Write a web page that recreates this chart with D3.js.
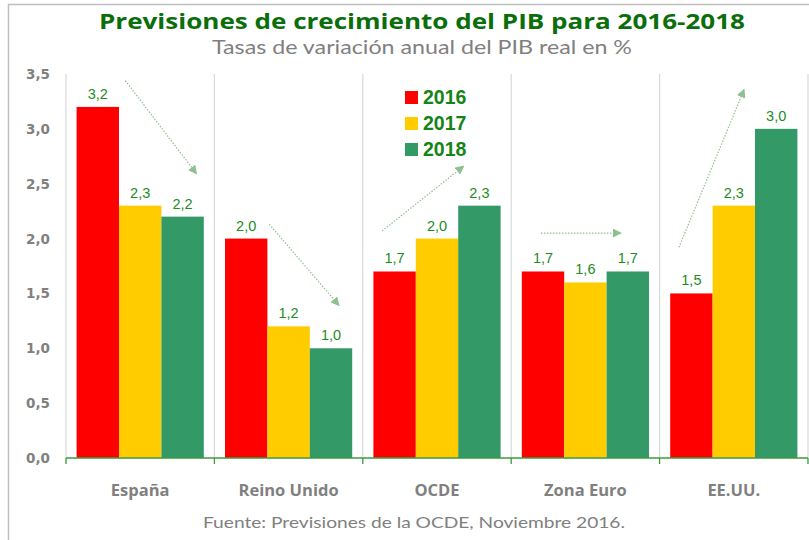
<!DOCTYPE html>
<html>
<head>
<meta charset="utf-8">
<script src="https://cdn.jsdelivr.net/npm/d3@7"></script>
<style>
  body { margin: 0; background: #fff; }
  svg { display: block; }
</style>
</head>
<body>
<svg width="809" height="540"></svg>
<script>
// Data
var categories = ["España", "Reino Unido", "OCDE", "Zona Euro", "EE.UU."];
var years = ["2016", "2017", "2018"];
var values2016 = [3.2, 2.0, 1.7, 1.7, 1.5];
var values2017 = [2.3, 1.2, 2.0, 1.6, 2.3];
var values2018 = [2.2, 1.0, 2.3, 1.7, 3.0];
var yTicks = [0, 0.5, 1, 1.5, 2, 2.5, 3, 3.5];

// Trend arrows: category, start/end position inside the band (fraction) and value
var arrows = [
  { cat: "España", f0: 0.40, v0: 3.44, f1: 0.88, v1: 2.59 },
  { cat: "Reino Unido", f0: 0.37, v0: 2.13, f1: 0.84, v1: 1.39 },
  { cat: "OCDE", f0: 0.13, v0: 2.07, f1: 0.68, v1: 2.66 },
  { cat: "Zona Euro", f0: 0.20, v0: 2.05, f1: 0.74, v1: 2.05 },
  { cat: "EE.UU.", f0: 0.13, v0: 1.92, f1: 0.57, v1: 3.36 }
];

var colors = { "2016": "#ff0000", "2017": "#ffcc00", "2018": "#339966" };
var labelGreen = "#1e8c1e";

var svg = d3.select("svg");

// outer frame (top and left grey lines)
svg.append("path")
  .attr("d", "M8.5,540 V4.5 H809")
  .attr("fill", "none")
  .attr("stroke", "#bfbfbf")
  .attr("stroke-width", 1.5);

// build rows
var rows = categories.map(function (c, i) {
  return { cat: c, vals: [values2016[i], values2017[i], values2018[i]] };
});

var x0 = d3.scaleBand().domain(categories).range([66, 808]);
var x1 = d3.scaleBand().domain(years).range([0, x0.bandwidth()]).paddingOuter(0.25);
var y = d3.scaleLinear().domain([0, 3.5]).range([458, 74]);

var fmt = function (v) { return d3.format(".1f")(v).replace(".", ","); };

// vertical gridlines at band boundaries
var bounds = categories.map(function (c) { return x0(c); }).concat([x0.range()[1]]);
svg.append("g").selectAll("line")
  .data(bounds)
  .enter().append("line")
  .attr("x1", function (d) { return d; })
  .attr("x2", function (d) { return d; })
  .attr("y1", y(3.5))
  .attr("y2", y(0))
  .attr("stroke", "#d9d9d9")
  .attr("stroke-width", 1.2);

// bars
var groups = svg.append("g").selectAll("g")
  .data(rows)
  .enter().append("g")
  .attr("transform", function (d) { return "translate(" + x0(d.cat) + ",0)"; });

groups.selectAll("rect")
  .data(function (d) { return d.vals.map(function (v, i) { return { year: years[i], v: v }; }); })
  .enter().append("rect")
  .attr("x", function (d) { return x1(d.year); })
  .attr("width", x1.bandwidth())
  .attr("y", function (d) { return y(d.v); })
  .attr("height", function (d) { return y(0) - y(d.v); })
  .attr("fill", function (d) { return colors[d.year]; });

// value labels
groups.selectAll("text")
  .data(function (d) { return d.vals.map(function (v, i) { return { year: years[i], v: v }; }); })
  .enter().append("text")
  .attr("x", function (d) { return x1(d.year) + x1.bandwidth() / 2; })
  .attr("y", function (d) { return y(d.v) - 8; })
  .attr("text-anchor", "middle")
  .attr("font-family", "Liberation Sans, Arial, sans-serif")
  .attr("font-size", 14.5)
  .attr("fill", labelGreen)
  .text(function (d) { return fmt(d.v); });

// x axis (green line with ticks at band boundaries)
var xAxis = svg.append("g");
xAxis.append("line")
  .attr("x1", x0.range()[0]).attr("x2", x0.range()[1])
  .attr("y1", y(0)).attr("y2", y(0))
  .attr("stroke", "#3d9b3d").attr("stroke-width", 1.3);
xAxis.selectAll(".tick")
  .data(bounds)
  .enter().append("line")
  .attr("x1", function (d) { return d; })
  .attr("x2", function (d) { return d; })
  .attr("y1", y(0))
  .attr("y2", y(0) + 6)
  .attr("stroke", "#3d9b3d").attr("stroke-width", 1.3);

// category labels
svg.append("g").selectAll("text")
  .data(categories)
  .enter().append("text")
  .attr("x", function (d) { return x0(d) + x0.bandwidth() / 2; })
  .attr("y", 496)
  .attr("text-anchor", "middle")
  .attr("font-family", "Open Sans, sans-serif")
  .attr("font-weight", "bold")
  .attr("font-size", 16.5)
  .attr("fill", "#808080")
  .text(function (d) { return d; });

// y axis labels
svg.append("g").selectAll("text")
  .data(yTicks)
  .enter().append("text")
  .attr("x", 50)
  .attr("y", function (d) { return y(d) + 5; })
  .attr("text-anchor", "end")
  .attr("font-family", "DejaVu Sans, sans-serif")
  .attr("font-weight", "bold")
  .attr("font-size", 13.5)
  .attr("fill", "#808080")
  .text(fmt);

// trend arrows
svg.append("defs").append("marker")
  .attr("id", "head")
  .attr("viewBox", "0 0 10 10")
  .attr("refX", 9).attr("refY", 5)
  .attr("markerWidth", 9).attr("markerHeight", 9)
  .attr("markerUnits", "userSpaceOnUse")
  .attr("orient", "auto")
  .append("path")
  .attr("d", "M0,0 L10,5 L0,10 Z")
  .attr("fill", "#8fc08f");

svg.append("g").selectAll("line")
  .data(arrows)
  .enter().append("line")
  .attr("x1", function (d) { return x0(d.cat) + d.f0 * x0.bandwidth(); })
  .attr("y1", function (d) { return y(d.v0); })
  .attr("x2", function (d) { return x0(d.cat) + d.f1 * x0.bandwidth(); })
  .attr("y2", function (d) { return y(d.v1); })
  .attr("stroke", "#8fc08f")
  .attr("stroke-width", 1.2)
  .attr("stroke-dasharray", "1.5,1.5")
  .attr("marker-end", "url(#head)");

// legend
var legend = svg.append("g").selectAll("g")
  .data(years)
  .enter().append("g")
  .attr("transform", function (d, i) { return "translate(405," + (91 + i * 26) + ")"; });
legend.append("rect")
  .attr("width", 13).attr("height", 13)
  .attr("fill", function (d) { return colors[d]; });
legend.append("text")
  .attr("x", 18).attr("y", 13)
  .attr("font-family", "Liberation Sans, Arial, sans-serif")
  .attr("font-weight", "bold")
  .attr("font-size", 19.5)
  .attr("fill", "#148414")
  .text(function (d) { return d; });

// titles
svg.append("text")
  .attr("x", 422).attr("y", 29)
  .attr("text-anchor", "middle")
  .attr("font-family", "Open Sans, sans-serif")
  .attr("font-weight", "bold")
  .attr("font-size", 22)
  .attr("fill", "#0a6e0a")
  .attr("textLength", 646)
  .attr("lengthAdjust", "spacingAndGlyphs")
  .text("Previsiones de crecimiento del PIB para 2016-2018");

svg.append("text")
  .attr("x", 422).attr("y", 54)
  .attr("text-anchor", "middle")
  .attr("font-family", "Lato, sans-serif")
  .attr("font-size", 19)
  .attr("fill", "#808080")
  .attr("textLength", 420)
  .attr("lengthAdjust", "spacingAndGlyphs")
  .text("Tasas de variación anual del PIB real en %");

svg.append("text")
  .attr("x", 414).attr("y", 528)
  .attr("text-anchor", "middle")
  .attr("font-family", "Lato, sans-serif")
  .attr("font-size", 16)
  .attr("fill", "#808080")
  .attr("textLength", 422)
  .attr("lengthAdjust", "spacingAndGlyphs")
  .text("Fuente: Previsiones de la OCDE, Noviembre 2016.");
</script>
</body>
</html>
